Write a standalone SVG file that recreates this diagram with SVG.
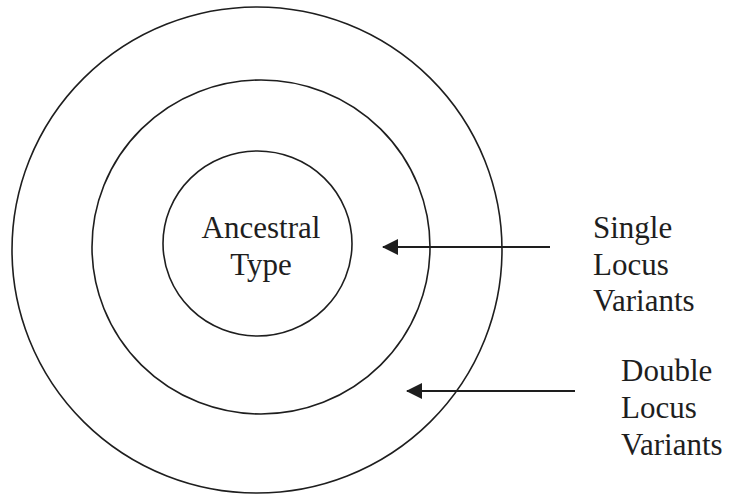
<svg xmlns="http://www.w3.org/2000/svg" width="731" height="499" viewBox="0 0 731 499">
<style>
.ring{fill:none;stroke:#1e1e1e;stroke-width:1.6}
.conn{fill:none;stroke:#1e1e1e;stroke-width:2}
.lbl{font-family:"Liberation Serif","Times New Roman",serif;font-size:31px;fill:#1e1e1e}
</style>
<defs>
<marker id="ah" viewBox="0 0 16 16" refX="15" refY="8" markerWidth="16" markerHeight="16" markerUnits="userSpaceOnUse" orient="auto">
<path d="M0,0 L16,8 L0,16 Z" fill="#1e1e1e"/>
</marker>
</defs>
<rect width="731" height="499" fill="#ffffff"/>
<g id="outer"><ellipse class="ring" cx="257" cy="250" rx="245" ry="243"/></g>
<g id="middle"><ellipse class="ring" cx="261" cy="247" rx="169" ry="167"/></g>
<g id="inner">
<ellipse class="ring" cx="257.5" cy="243.5" rx="94.5" ry="92.5"/>
<text class="lbl" x="261" y="238" text-anchor="middle">Ancestral</text>
<text class="lbl" x="261" y="275" text-anchor="middle">Type</text>
</g>
<g id="slv-label">
<text class="lbl" x="593" y="238">Single</text>
<text class="lbl" x="593" y="275">Locus</text>
<text class="lbl" x="593" y="311">Variants</text>
</g>
<g id="dlv-label">
<text class="lbl" x="621" y="381">Double</text>
<text class="lbl" x="621" y="418">Locus</text>
<text class="lbl" x="621" y="455">Variants</text>
</g>
<g id="connectors">
<line class="conn" x1="550" y1="247" x2="383" y2="247" marker-end="url(#ah)"/>
<line class="conn" x1="575" y1="391" x2="407" y2="391" marker-end="url(#ah)"/>
</g>
</svg>
